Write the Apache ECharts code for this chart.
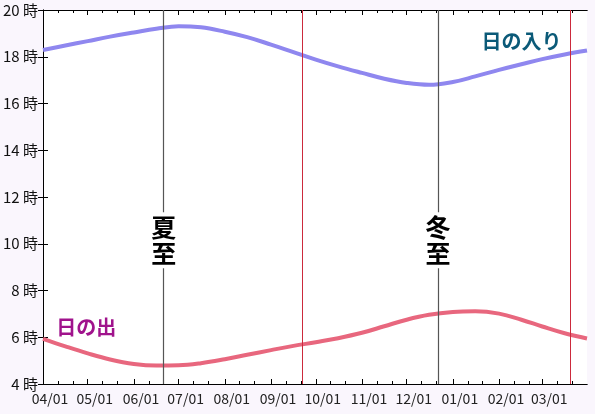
<!DOCTYPE html>
<html><head><meta charset="utf-8">
<script src="https://cdn.jsdelivr.net/npm/echarts@6/dist/echarts.min.js"></script>
<style>html,body{margin:0;padding:0;background:#faf6fd;}#c{width:595px;height:414px;}</style>
</head><body><div id="c"></div>
<script>
// ---- data ----
const startDate = '2023-04-01';
const endDate = '2024-03-31';
const monthStarts = ['2023-04-01','2023-05-01','2023-06-01','2023-07-01','2023-08-01','2023-09-01','2023-10-01','2023-11-01','2023-12-01','2024-01-01','2024-02-01','2024-03-01'];
const monthLabels = ['04/01','05/01','06/01','07/01','08/01','09/01','10/01','11/01','12/01','01/01','02/01','03/01'];
const hourTicks = [4,6,8,10,12,14,16,18,20];

const sampleDates = ['2023-04-01','2023-04-16','2023-05-01','2023-05-16','2023-06-01','2023-06-16','2023-07-01','2023-07-16','2023-08-01','2023-08-16','2023-09-01','2023-09-16','2023-10-01','2023-10-16','2023-11-01','2023-11-16','2023-12-01','2023-12-16','2024-01-01','2024-01-16','2024-02-01','2024-02-16','2024-03-01','2024-03-16','2024-03-31'];
const sunsetHours = [18.29,18.48,18.67,18.86,19.04,19.20,19.31,19.26,19.07,18.84,18.52,18.20,17.88,17.59,17.31,17.06,16.88,16.80,16.92,17.16,17.44,17.68,17.90,18.10,18.27];
const sunriseHours = [5.93,5.61,5.31,5.05,4.86,4.79,4.80,4.89,5.06,5.25,5.45,5.63,5.79,5.96,6.19,6.47,6.75,6.96,7.08,7.11,7.01,6.75,6.46,6.17,5.95];

const solsticeDates = ['2023-06-21','2023-12-22'];
const solsticeNames = ['夏至','冬至'];
const equinoxDates = ['2023-09-22','2024-03-20'];

const seriesNames = ['日の入り','日の出'];
// ---- helpers ----
const DAY = 86400000;
const t0 = Date.parse(startDate + 'T00:00:00Z');
const dayOf = d => (Date.parse(d + 'T00:00:00Z') - t0) / DAY;
const maxDay = dayOf(endDate);
const majorTicks = monthStarts.map(dayOf);
const minorTicks = [];
monthStarts.forEach(m => {
  const p = m.slice(0, 8);
  [p + '01', p + '11', p + '21'].forEach(d => minorTicks.push(dayOf(d)));
});
const labelMap = {};
majorTicks.forEach((v, i) => labelMap[v] = monthLabels[i]);

const sunsetData = sampleDates.map((d, i) => [dayOf(d), sunsetHours[i]]);
const sunriseData = sampleDates.map((d, i) => [dayOf(d), sunriseHours[i]]);

const FONT = '"Noto Sans CJK JP","Noto Sans",sans-serif';
const baseX = {type: 'value', min: 0, max: maxDay, splitLine: {show: false}, axisLine: {show: true, lineStyle: {color: '#000', width: 1}}};

const chart = echarts.init(document.getElementById('c'), null, {renderer: 'canvas'});
chart.setOption({
  backgroundColor: '#faf6fd',
  animation: false,
  grid: {left: 42, right: 8, top: 10, bottom: 30, show: true, backgroundColor: '#ffffff', borderWidth: 0},
  xAxis: [
    Object.assign({}, baseX, {position: 'bottom',
      axisTick: {show: true, inside: true, length: 3, lineStyle: {color: '#000'}, customValues: minorTicks},
      axisLabel: {show: true, customValues: majorTicks, formatter: v => labelMap[v] || '', color: '#222', fontSize: 14, fontFamily: FONT, margin: 8, padding: [0, 0, 0, 14]}}),
    Object.assign({}, baseX, {position: 'bottom',
      axisTick: {show: true, inside: true, length: 5, lineStyle: {color: '#000'}, customValues: majorTicks},
      axisLabel: {show: false}}),
    Object.assign({}, baseX, {position: 'top',
      axisTick: {show: true, inside: true, length: 3, lineStyle: {color: '#000'}, customValues: minorTicks},
      axisLabel: {show: false}}),
    Object.assign({}, baseX, {position: 'top',
      axisTick: {show: true, inside: true, length: 5, lineStyle: {color: '#000'}, customValues: majorTicks},
      axisLabel: {show: false}})
  ],
  yAxis: [
    {type: 'value', position: 'left', min: 4, max: 20, interval: 2, splitLine: {show: false},
      axisLine: {show: true, lineStyle: {color: '#333', width: 1, type: [2, 1]}},
      axisTick: {show: true, inside: true, length: 5, lineStyle: {color: '#000'}, customValues: hourTicks},
      axisLabel: {formatter: '{value} 時', color: '#111', fontSize: 15, fontFamily: FONT, margin: 5}},
    {type: 'value', position: 'right', min: 4, max: 20, interval: 2, splitLine: {show: false},
      axisLine: {show: true, lineStyle: {color: '#000', width: 1}},
      axisTick: {show: true, inside: true, length: 5, lineStyle: {color: '#000'}},
      axisLabel: {show: false}}
  ],
  series: [
    {name: seriesNames[0], type: 'line', data: sunsetData, smooth: 0.4, showSymbol: false, symbol: 'none', z: 2,
      lineStyle: {color: '#8f87ef', width: 4}},
    {name: seriesNames[1], type: 'line', data: sunriseData, smooth: 0.4, showSymbol: false, symbol: 'none', z: 2,
      lineStyle: {color: '#e8677e', width: 4}},
    {type: 'line', data: [], z: 3, silent: true,
      markLine: {symbol: 'none', silent: true, label: {show: false},
        data: solsticeDates.map(d => ({xAxis: dayOf(d), lineStyle: {color: '#555', width: 1.2, type: 'solid'}}))
          .concat(equinoxDates.map(d => ({xAxis: dayOf(d), lineStyle: {color: '#cc2a3c', width: 1, type: 'solid'}})))}},
    {type: 'line', data: [], z: 5, silent: true,
      markPoint: {symbol: 'circle', symbolSize: 0, silent: true,
        data: solsticeDates.map((d, i) => ({coord: [dayOf(d), 10.15], label: {show: true, formatter: solsticeNames[i].split('').join('\n'),
            fontSize: 25, fontWeight: 'bold', lineHeight: 26, color: '#000', fontFamily: FONT, backgroundColor: '#fff', padding: [2, 0, 2, 0]}}))
          .concat([
            {coord: [dayOf('2024-02-16'), 18.67], label: {show: true, formatter: seriesNames[0], fontSize: 20, fontWeight: 'bold', color: '#0b5a78', fontFamily: FONT}},
            {coord: [dayOf('2023-04-30'), 6.44], label: {show: true, formatter: seriesNames[1], fontSize: 20, fontWeight: 'bold', color: '#a0138c', fontFamily: FONT}}
          ])}}
  ]
});
</script></body></html>
